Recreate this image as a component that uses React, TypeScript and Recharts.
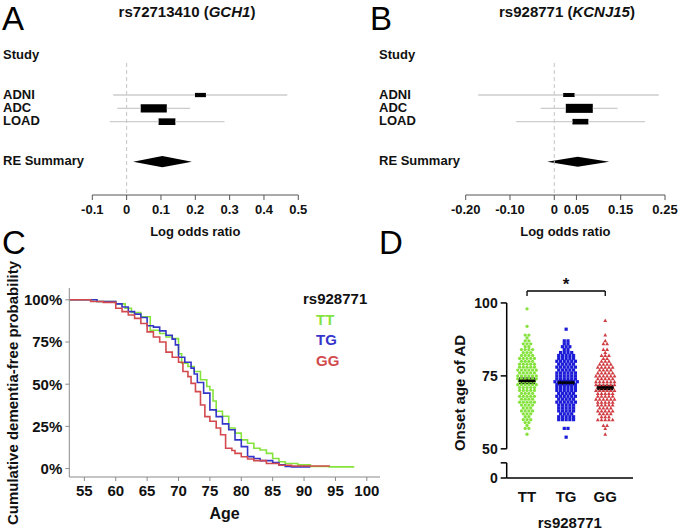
import React from "react";
import {
  ComposedChart,
  ScatterChart,
  LineChart,
  Line,
  Scatter,
  ErrorBar,
  XAxis,
  YAxis,
  ReferenceLine,
  ReferenceArea,
  ReferenceDot,
  Legend,
} from "recharts";

const FONT = '"Liberation Sans", Arial, Helvetica, sans-serif';

// ---- A / B: random-effects meta analysis
const rowNames = ["Study", "ADNI", "ADC", "LOAD", "RE Summary"];
const rowPos = [-2, 1, 2, 3, 6];
const studyRows = [1, 2, 3];
const summaryRow = 6;

const gchEst = [0.215, 0.079, 0.118];
const gchLo = [-0.039, -0.027, -0.049];
const gchHi = [0.468, 0.185, 0.285];
const gchBoxLo = [0.199, 0.041, 0.093];
const gchBoxHi = [0.231, 0.117, 0.142];
const gchWeight = [0.32, 0.62, 0.5];
const gchSummary = [0.019, 0.104, 0.19]; // lo, est, hi
const gchTicks = [-0.1, 0, 0.1, 0.2, 0.3, 0.4, 0.5];
const gchTickLabels = ["-0.1", "0", "0.1", "0.2", "0.3", "0.4", "0.5"];

const kcnEst = [0.033, 0.056, 0.059];
const kcnLo = [-0.172, -0.031, -0.086];
const kcnHi = [0.236, 0.143, 0.205];
const kcnBoxLo = [0.02, 0.026, 0.041];
const kcnBoxHi = [0.046, 0.087, 0.077];
const kcnWeight = [0.3, 0.68, 0.42];
const kcnSummary = [-0.016, 0.053, 0.124];
const kcnTicks = [-0.2, -0.1, 0, 0.05, 0.15, 0.25];
const kcnTickLabels = ["-0.20", "-0.10", "0", "0.05", "0.15", "0.25"];

// ---- C: Kaplan-Meier, dementia-free probability by age
const ttAge = [52.6, 57, 60, 61.5, 62.5, 64, 65.5, 67, 68, 69, 70, 70.5, 71.5, 72.5, 73.5, 74.5, 75, 75.5, 76, 77, 78, 79, 80, 81, 82, 83, 84, 85, 86, 87, 89, 91, 94, 98];
const ttSurv = [1, 0.99, 0.976, 0.95, 0.925, 0.9, 0.82, 0.8, 0.78, 0.77, 0.68, 0.625, 0.605, 0.575, 0.526, 0.486, 0.466, 0.4, 0.34, 0.31, 0.24, 0.21, 0.17, 0.15, 0.12, 0.11, 0.09, 0.06, 0.04, 0.03, 0.022, 0.012, 0.01, 0.01];
const tgAge = [52.6, 57, 60, 61, 62, 63, 64, 65, 66, 67, 68, 69, 69.5, 70, 71, 72, 72.5, 73, 74, 75, 76, 77, 78, 79, 80, 81, 82, 83, 85, 86, 87, 88, 91];
const tgSurv = [1, 0.99, 0.976, 0.957, 0.93, 0.915, 0.895, 0.846, 0.838, 0.816, 0.79, 0.767, 0.733, 0.66, 0.63, 0.595, 0.56, 0.51, 0.447, 0.348, 0.308, 0.265, 0.23, 0.17, 0.13, 0.071, 0.06, 0.047, 0.036, 0.022, 0.012, 0.01, 0.01];
const ggAge = [52.6, 56, 58, 60, 61, 62, 63, 64, 65, 66, 67, 68, 69, 70, 70.7, 71.5, 72, 72.7, 73.5, 74.2, 75, 76, 76.7, 77.5, 78.5, 79, 80, 81, 82, 84, 86, 88, 94];
const ggSurv = [1, 0.99, 0.985, 0.95, 0.93, 0.91, 0.89, 0.86, 0.81, 0.78, 0.75, 0.69, 0.66, 0.63, 0.575, 0.545, 0.505, 0.456, 0.377, 0.308, 0.28, 0.24, 0.2, 0.12, 0.107, 0.09, 0.07, 0.057, 0.047, 0.03, 0.02, 0.015, 0.012];
const ageTicks = [55, 60, 65, 70, 75, 80, 85, 90, 95, 100];
const survTicks = [0, 0.25, 0.5, 0.75, 1];

// ---- D: onset age of AD per genotype (age, number of patients)
const genotypes = ["TT", "TG", "GG"];
const ttOnset = [98, 92, 89, 88, 87, 86, 85, 84, 83, 82, 81, 80, 79, 78, 77, 76, 75, 74, 73, 72, 71, 70, 69, 68, 67, 66, 65, 64, 63, 62, 61, 60, 59, 58, 57, 55];
const ttCount = [1, 1, 2, 1, 2, 3, 2, 4, 3, 4, 5, 4, 5, 5, 6, 5, 6, 6, 5, 6, 5, 5, 4, 5, 4, 5, 4, 3, 4, 3, 2, 3, 2, 1, 2, 1];
const tgOnset = [91, 87, 86, 85, 84, 83, 82, 81, 80, 79, 78, 77, 76, 75, 74, 73, 72, 71, 70, 69, 68, 67, 66, 65, 64, 63, 62, 61, 60, 57, 54];
const tgCount = [1, 2, 2, 3, 2, 4, 5, 5, 6, 5, 6, 5, 6, 6, 6, 7, 6, 6, 6, 5, 6, 5, 6, 5, 5, 5, 4, 5, 5, 2, 1];
const ggOnset = [94, 89, 87, 86, 84, 83, 82, 81, 80, 79, 78, 77, 76, 75, 74, 73, 72, 71, 70, 69, 68, 67, 66, 65, 64, 63, 62, 61, 60, 58, 57, 55];
const ggCount = [1, 1, 1, 2, 2, 1, 3, 2, 3, 4, 5, 4, 5, 6, 5, 6, 6, 5, 6, 5, 5, 6, 5, 5, 4, 5, 4, 3, 5, 2, 1, 1];
const onsetMean = [73.3, 72.7, 71.0];
const onsetSem = [0.8, 0.6, 0.6];
const onsetTicks = [50, 75, 100];

const GREEN = "#86e33e";
const BLUE = "#1c1cd8";
const RED = "#d03c42";

const diamond = (lo: number, est: number, hi: number) => (p: any) => {
  const { x, y, width, height } = p;
  const mx = x + (width * (est - lo)) / (hi - lo);
  const my = y + height / 2;
  return (
    <polygon
      points={`${x},${my} ${mx},${y} ${x + width},${my} ${mx},${y + height}`}
      fill="#000"
    />
  );
};

interface ForestProps {
  est: number[];
  lo: number[];
  hi: number[];
  boxLo: number[];
  boxHi: number[];
  weight: number[];
  summary: number[];
  summaryH: number;
  ticks: number[];
  tickLabels: string[];
  yWidth: number;
  right: number;
  labelX: number;
}

function Forest(props: ForestProps) {
  const { est, lo, hi, boxLo, boxHi, weight, summary, ticks, tickLabels } = props;
  const data = studyRows.map((row, i) => ({ est: est[i], row }));
  const domain = [ticks[0], ticks[ticks.length - 1]];
  const ci = { stroke: "#cdcdcd", strokeWidth: 1.3 };

  return (
    <ComposedChart
      width={340}
      height={245}
      data={data}
      margin={{ top: 41.7, right: props.right, bottom: 5, left: 0 }}
    >
      <XAxis
        type="number"
        dataKey="est"
        domain={domain}
        ticks={ticks}
        interval={0}
        tickFormatter={(v) => tickLabels[ticks.indexOf(v)] ?? String(v)}
        stroke="#555"
        tickSize={5}
        tickMargin={5}
        tick={{ fill: "#111", fontSize: 13, fontWeight: "bold" }}
        height={45}
        label={{ value: "Log odds ratio", position: "insideBottom", offset: 4, fill: "#111", fontSize: 13, fontWeight: "bold" }}
      />
      <YAxis
        type="number"
        dataKey="row"
        domain={[-3, 8.5]}
        reversed
        ticks={rowPos}
        interval={0}
        axisLine={false}
        tickLine={false}
        width={props.yWidth}
        tick={(p: any) => (
          <text x={props.labelX} y={p.y} dy={3.5} textAnchor="start" fill="#111" fontSize={13} fontWeight="bold">
            {rowNames[rowPos.indexOf(p.payload.value)]}
          </text>
        )}
      />
      <ReferenceLine segment={[{ x: 0, y: -1.4 }, { x: 0, y: 8.5 }]} stroke="#c4c4c4" strokeDasharray="4 3" ifOverflow="visible" />
      {studyRows.map((row, i) => (
        <ReferenceLine key={`cil${i}`} segment={[{ x: lo[i], y: row }, { x: boxLo[i], y: row }]} {...ci} />
      ))}
      {studyRows.map((row, i) => (
        <ReferenceLine key={`cir${i}`} segment={[{ x: boxHi[i], y: row }, { x: hi[i], y: row }]} {...ci} />
      ))}
      {studyRows.map((row, i) => (
        <ReferenceArea
          key={`box${i}`}
          x1={boxLo[i]}
          x2={boxHi[i]}
          y1={row - weight[i] / 2}
          y2={row + weight[i] / 2}
          fill="#000"
          fillOpacity={1}
          stroke="none"
        />
      ))}
      <ReferenceArea
        x1={summary[0]}
        x2={summary[2]}
        y1={summaryRow - props.summaryH / 2}
        y2={summaryRow + props.summaryH / 2}
        shape={diamond(summary[0], summary[1], summary[2])}
      />
      <Scatter dataKey="row" shape={() => <g />} isAnimationActive={false} />
    </ComposedChart>
  );
}

const curve = (ages: number[], surv: number[]) => ages.map((a, i) => ({ age: a, s: surv[i] }));

function KaplanMeier() {
  return (
    <LineChart width={420} height={312} margin={{ top: 68, right: 40, bottom: 4, left: 0 }}>
      <XAxis
        type="number"
        dataKey="age"
        domain={[52.6, 102.1]}
        ticks={ageTicks}
        interval={0}
        allowDataOverflow
        stroke="#8a8a8a"
        tickSize={4}
        tickMargin={4}
        tick={{ fill: "#111", fontSize: 15, fontWeight: "bold" }}
        height={51}
        label={{ value: "Age", position: "insideBottom", offset: 9, fill: "#111", fontSize: 16, fontWeight: "bold" }}
      />
      <YAxis
        type="number"
        domain={[-0.05, 1.07]}
        ticks={survTicks}
        interval={0}
        allowDataOverflow
        tickFormatter={(v) => `${Math.round(v * 100)}%`}
        stroke="#8a8a8a"
        tickSize={4}
        tickMargin={3}
        tick={{ fill: "#111", fontSize: 15, fontWeight: "bold" }}
        width={69.3}
        label={{
          value: "Cumulative dementia-free probability",
          content: () => (
            <text transform="translate(12,173) rotate(-90)" textAnchor="middle" dominantBaseline="central" fill="#111" fontSize={15} fontWeight="bold">
              Cumulative dementia-free probability
            </text>
          ),
        }}
      />
      <Legend
        layout="vertical"
        align="center"
        verticalAlign="middle"
        wrapperStyle={{ left: 303, top: 69, width: 90 }}
        content={({ payload }: any) => (
          <div style={{ fontFamily: FONT, fontWeight: "bold", fontSize: 15, lineHeight: "20.5px" }}>
            <div style={{ color: "#111" }}>rs928771</div>
            {genotypes.map((g) => {
              const e = (payload || []).find((it: any) => it.value === g);
              return (
                <div key={g} style={{ color: e ? e.color : "#111", paddingLeft: 13 }}>
                  {g}
                </div>
              );
            })}
          </div>
        )}
      />
      <Line data={curve(ttAge, ttSurv)} dataKey="s" name="TT" type="stepAfter" stroke={GREEN} strokeWidth={1.6} dot={false} isAnimationActive={false} />
      <Line data={curve(tgAge, tgSurv)} dataKey="s" name="TG" type="stepAfter" stroke="#3535c9" strokeWidth={1.6} dot={false} isAnimationActive={false} />
      <Line data={curve(ggAge, ggSurv)} dataKey="s" name="GG" type="stepAfter" stroke="#d24a4e" strokeWidth={1.6} dot={false} isAnimationActive={false} />
    </LineChart>
  );
}

// beeswarm: patients with the same onset age are spread sideways
const swarm = (ages: number[], counts: number[], pos: number) => {
  const pts: { x: number; y: number }[] = [];
  ages.forEach((a, i) => {
    const n = counts[i];
    for (let k = 0; k < n; k++) pts.push({ x: pos + (k - (n - 1) / 2) * 0.095, y: a });
  });
  return pts;
};

const AXIS_ZERO = 40; // where "0" sits below the axis break
const BREAK_TOP = 45.2;
const X_MIN = 0.48;

function Onset() {
  const means = genotypes.map((g, i) => ({ x: i + 1, y: onsetMean[i], sem: onsetSem[i] }));
  return (
    <ScatterChart width={260} height={312} margin={{ top: 59.6, right: 47, bottom: 4, left: 0 }}>
      <XAxis
        type="number"
        dataKey="x"
        domain={[X_MIN, 3.71]}
        ticks={[1, 2, 3]}
        interval={0}
        tickFormatter={(v) => genotypes[v - 1]}
        axisLine={{ stroke: "#000", strokeWidth: 1.5 }}
        tickLine={false}
        tickSize={6}
        tickMargin={7}
        tick={{ fill: "#111", fontSize: 15, fontWeight: "bold" }}
        height={50}
        label={{ value: "rs928771", position: "insideBottom", offset: 0, fill: "#111", fontSize: 15, fontWeight: "bold" }}
      />
      <YAxis
        type="number"
        dataKey="y"
        domain={[AXIS_ZERO, 108]}
        ticks={[AXIS_ZERO, BREAK_TOP, ...onsetTicks]}
        interval={0}
        tickFormatter={(v) => (v === AXIS_ZERO ? "0" : v === BREAK_TOP ? "" : String(v))}
        axisLine={false}
        tickLine={{ stroke: "#000", strokeWidth: 1.5 }}
        tickSize={6}
        tickMargin={3}
        tick={{ fill: "#111", fontSize: 14, fontWeight: "bold" }}
        width={86.7}
        label={{
          value: "Onset age of AD",
          content: () => (
            <text transform="translate(39,173) rotate(-90)" textAnchor="middle" dominantBaseline="central" fill="#111" fontSize={15} fontWeight="bold">
              Onset age of AD
            </text>
          ),
        }}
      />
      <ReferenceLine segment={[{ x: X_MIN, y: 50 }, { x: X_MIN, y: 100 }]} stroke="#000" strokeWidth={1.5} ifOverflow="visible" />
      <ReferenceLine segment={[{ x: X_MIN, y: AXIS_ZERO }, { x: X_MIN, y: BREAK_TOP }]} stroke="#000" strokeWidth={1.5} ifOverflow="visible" />
      <ReferenceLine segment={[{ x: 1, y: 102.4 }, { x: 1, y: 104.1 }]} stroke="#000" strokeWidth={1.3} ifOverflow="visible" />
      <ReferenceLine segment={[{ x: 1, y: 104.1 }, { x: 3, y: 104.1 }]} stroke="#000" strokeWidth={1.3} ifOverflow="visible" />
      <ReferenceLine segment={[{ x: 3, y: 102.4 }, { x: 3, y: 104.1 }]} stroke="#000" strokeWidth={1.3} ifOverflow="visible" />
      <ReferenceDot
        x={2}
        y={104.1}
        ifOverflow="visible"
        shape={(p: any) => (
          <text x={p.cx} y={p.cy} dy={-0.5} textAnchor="middle" fill="#111" fontSize={17} fontWeight="bold">
            *
          </text>
        )}
      />
      <Scatter
        data={swarm(ttOnset, ttCount, 1)}
        isAnimationActive={false}
        shape={(p: any) => <circle cx={p.cx} cy={p.cy} r={1.65} fill={GREEN} />}
      />
      <Scatter
        data={swarm(tgOnset, tgCount, 2)}
        isAnimationActive={false}
        shape={(p: any) => <rect x={p.cx - 1.6} y={p.cy - 1.6} width={3.2} height={3.2} fill={BLUE} />}
      />
      <Scatter
        data={swarm(ggOnset, ggCount, 3)}
        isAnimationActive={false}
        shape={(p: any) => (
          <polygon points={`${p.cx},${p.cy - 2} ${p.cx + 1.9},${p.cy + 1.5} ${p.cx - 1.9},${p.cy + 1.5}`} fill={RED} />
        )}
      />
      <Scatter
        data={means}
        isAnimationActive={false}
        shape={(p: any) => <line x1={p.cx - 8.5} x2={p.cx + 8.5} y1={p.cy} y2={p.cy} stroke="#000" strokeWidth={2.5} />}
      >
        <ErrorBar dataKey="sem" direction="y" width={8} stroke="#000" strokeWidth={2} />
      </Scatter>
    </ScatterChart>
  );
}

export default function App() {
  const letter = { fontSize: 33, fill: "#000" };
  const title = { fontSize: 15, fontWeight: "bold", fill: "#111", textAnchor: "middle" as const };
  return (
    <div style={{ position: "relative", width: 680, height: 532, background: "#fff", fontFamily: FONT, overflow: "hidden" }}>
      <style>{"body{margin:0}"}</style>
      <div style={{ position: "absolute", left: 0, top: 0 }}>
        <Forest
          est={gchEst} lo={gchLo} hi={gchHi} boxLo={gchBoxLo} boxHi={gchBoxHi} weight={gchWeight}
          summary={gchSummary} summaryH={0.85} ticks={gchTicks} tickLabels={gchTickLabels}
          yWidth={92.3} right={41.7} labelX={3}
        />
      </div>
      <div style={{ position: "absolute", left: 340, top: 0 }}>
        <Forest
          est={kcnEst} lo={kcnLo} hi={kcnHi} boxLo={kcnBoxLo} boxHi={kcnBoxHi} weight={kcnWeight}
          summary={kcnSummary} summaryH={0.75} ticks={kcnTicks} tickLabels={kcnTickLabels}
          yWidth={125.7} right={15} labelX={39}
        />
      </div>
      <div style={{ position: "absolute", left: 0, top: 220 }}>
        <KaplanMeier />
      </div>
      <div style={{ position: "absolute", left: 420, top: 220 }}>
        <Onset />
      </div>
      <svg width={680} height={532} style={{ position: "absolute", left: 0, top: 0, pointerEvents: "none" }}>
        <text x={2} y={30} {...letter}>A</text>
        <text x={370} y={30} {...letter}>B</text>
        <text x={2} y={254} {...letter}>C</text>
        <text x={379} y={254} {...letter}>D</text>
        <text x={187} y={17} {...title}>
          rs72713410 (<tspan fontStyle="italic">GCH1</tspan>)
        </text>
        <text x={567} y={17} {...title}>
          rs928771 (<tspan fontStyle="italic">KCNJ15</tspan>)
        </text>
      </svg>
    </div>
  );
}
